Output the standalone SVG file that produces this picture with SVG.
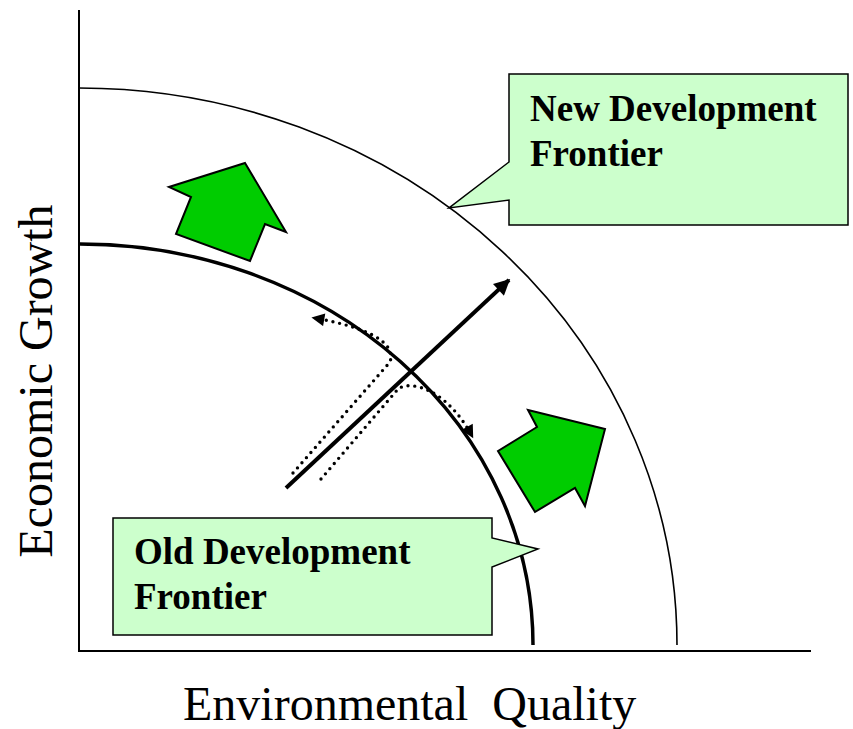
<svg xmlns="http://www.w3.org/2000/svg" width="853" height="729" viewBox="0 0 853 729">
  <defs>
    <style>
      .axis { stroke: #000; stroke-width: 2; fill: none; }
      .frontier-old { stroke: #000; stroke-width: 3.5; fill: none; }
      .frontier-new { stroke: #000; stroke-width: 1.6; fill: none; }
      .shift { fill: #00cc00; stroke: #000; stroke-width: 2; stroke-linejoin: miter; }
      .callout { fill: #ccffcc; stroke: #000; stroke-width: 1.5; }
      .callout-text { font-family: "Liberation Serif", "Times New Roman", serif; font-weight: bold; font-size: 37px; fill: #000; }
      .axis-label { font-family: "Liberation Serif", "Times New Roman", serif; font-size: 48px; fill: #000; }
      .main-arrow { stroke: #000; stroke-width: 4; fill: none; }
      .dotted { stroke: #000; stroke-width: 3.4; fill: none; stroke-dasharray: 0 6.8; stroke-linecap: round; }
    </style>
    <marker id="bigHead" viewBox="0 0 10 10" refX="9" refY="5" markerWidth="6" markerHeight="4" orient="auto" markerUnits="strokeWidth">
      <path d="M0,0 L10,5 L0,10 z" fill="#000"/>
    </marker>
    <marker id="smallHead" viewBox="0 0 10 10" refX="8" refY="5" markerWidth="5" markerHeight="3.8" orient="auto" markerUnits="strokeWidth">
      <path d="M0,0 L10,5 L0,10 z" fill="#000"/>
    </marker>
  </defs>

  <g id="axes">
    <line class="axis" x1="79" y1="10" x2="79" y2="652"/>
    <line class="axis" x1="79" y1="651" x2="811" y2="651"/>
  </g>

  <g id="new-frontier">
    <path class="frontier-new" d="M79,88 A598,557 0 0 1 677,645"/>
  </g>

  <g id="old-frontier">
    <path class="frontier-old" d="M80,244 A453,401 0 0 1 533,645"/>
  </g>

  <g id="shift-arrow-up">
    <polygon class="shift" points="245,163 286,232 265,224 250,261 176,234 191,197 169,187"/>
  </g>

  <g id="shift-arrow-right">
    <polygon class="shift" points="528,410 605,429 585,506 575,488 535,512 498,451 537,427"/>
  </g>

  <g id="connectors">
    <line class="main-arrow" x1="286" y1="488" x2="509" y2="280" marker-end="url(#bigHead)"/>
    <path class="dotted" d="M293,473 L390,362 C396,344 372,328 314,318" marker-end="url(#smallHead)"/>
    <path class="dotted" d="M321,479 L398,389 C410,380 446,388 472,436" marker-end="url(#smallHead)"/>
  </g>

  <g id="callout-new">
    <path class="callout" d="M509,74 L848,74 L848,225 L509,225 L509,200 L449,208 L509,162 Z"/>
    <text class="callout-text" x="530" y="121">New Development</text>
    <text class="callout-text" x="530" y="166">Frontier</text>
  </g>

  <g id="callout-old">
    <path class="callout" d="M113,518 L492,518 L492,538 L538,549 L492,567 L492,635 L113,635 Z"/>
    <text class="callout-text" x="134" y="564">Old Development</text>
    <text class="callout-text" x="134" y="609">Frontier</text>
  </g>

  <g id="labels">
    <text class="axis-label" x="183" y="720">Environmental&#160; Quality</text>
    <text class="axis-label" transform="translate(52,381) rotate(-90)" text-anchor="middle">Economic Growth</text>
  </g>
</svg>
